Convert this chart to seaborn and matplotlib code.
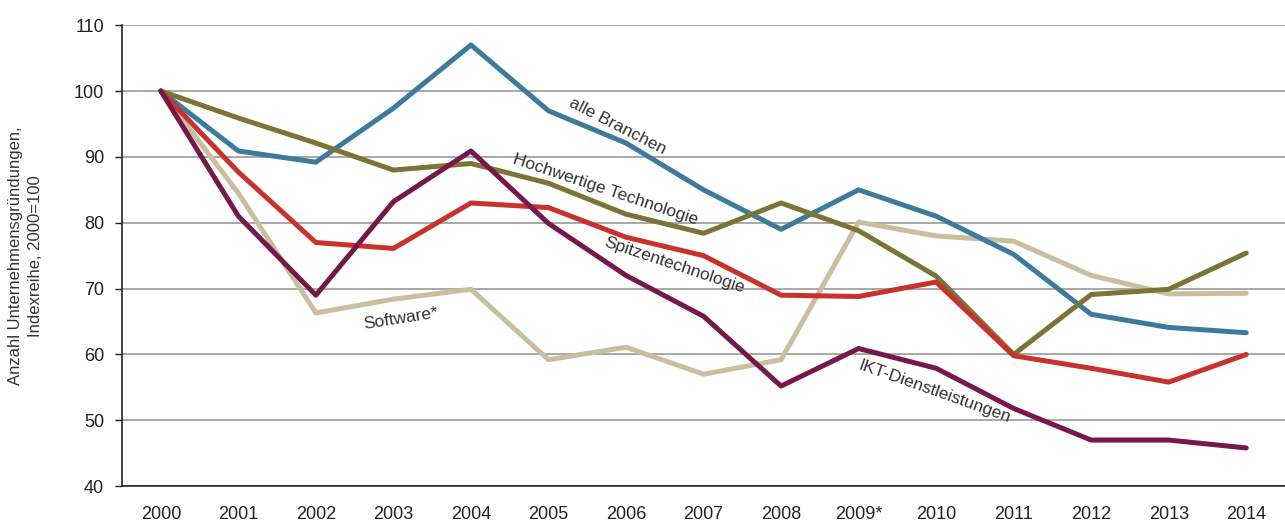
import matplotlib
matplotlib.use("Agg")
import matplotlib.pyplot as plt
import seaborn as sns
import pandas as pd
from matplotlib import font_manager

years = ["2000", "2001", "2002", "2003", "2004", "2005", "2006", "2007",
         "2008", "2009*", "2010", "2011", "2012", "2013", "2014"]

software = [100, 84.5, 66.3, 68.4, 69.9, 59.2, 61.1, 57.0, 59.2, 80.1, 78.0, 77.2, 72.0, 69.2, 69.3]
alle_branchen = [100, 90.9, 89.2, 97.4, 107.0, 97.0, 92.1, 85.0, 79.0, 85.0, 81.0, 75.2, 66.1, 64.1, 63.3]
hochwertige = [100, 95.9, 92.1, 88.0, 89.0, 86.0, 81.3, 78.4, 83.0, 78.8, 71.9, 60.0, 69.1, 69.9, 75.4]
spitzen = [100, 87.7, 77.0, 76.1, 83.0, 82.3, 77.8, 75.0, 69.0, 68.8, 71.0, 59.8, 57.9, 55.8, 60.0]
ikt = [100, 81.0, 69.0, 83.2, 90.9, 79.9, 72.0, 65.8, 55.2, 60.9, 57.9, 51.8, 47.0, 47.0, 45.8]

series = {
    "Software*": software,
    "alle Branchen": alle_branchen,
    "Hochwertige Technologie": hochwertige,
    "Spitzentechnologie": spitzen,
    "IKT-Dienstleistungen": ikt,
}
colors = {
    "Software*": "#c9bf9e",
    "alle Branchen": "#3d7b9d",
    "Hochwertige Technologie": "#7b7436",
    "Spitzentechnologie": "#c8322b",
    "IKT-Dienstleistungen": "#76184b",
}

rows = []
for name, vals in series.items():
    for i, v in enumerate(vals):
        rows.append({"pos": i, "year": years[i], "Serie": name, "Wert": v})
df = pd.DataFrame(rows)

sns.set_theme(style="white")
names = [f.name for f in font_manager.fontManager.ttflist]
fam = "Liberation Sans Narrow" if "Liberation Sans Narrow" in names else "Liberation Sans"
plt.rcParams["font.family"] = [fam, "DejaVu Sans"]

fig = plt.figure(figsize=(12.85, 5.25), dpi=100)
ax = fig.add_axes([0.095, 0.074, 0.905, 0.878])

for y in range(40, 111, 10):
    ax.axhline(y, color="#a8a8a8", lw=1.4, zorder=0)

sns.lineplot(data=df, x="pos", y="Wert", hue="Serie", palette=colors,
             hue_order=list(series.keys()), linewidth=3.6, ax=ax,
             legend=False, solid_capstyle="round")

ax.set_xlim(-0.5, 14.42)
ax.set_ylim(40, 110)
ax.set_yticks(range(40, 111, 10))
ax.set_xticks(range(len(years)))
ax.set_xticklabels(years)
ax.set_xticks([i - 0.5 for i in range(len(years) + 1)], minor=True)
ax.tick_params(axis="x", which="major", length=0, labelsize=13, pad=14, colors="#222222")
ax.tick_params(axis="x", which="minor", length=5, width=1, color="#222222", direction="out")
ax.tick_params(axis="y", which="major", length=5, width=1, labelsize=13, color="#222222",
               direction="out", pad=8, colors="#222222", left=True)
ax.set_xlabel("")
ax.set_ylabel("Anzahl Unternehmensgründungen,\nIndexreihe, 2000=100", fontsize=12,
              color="#333333", labelpad=22, linespacing=1.4)

for s in ["top", "right"]:
    ax.spines[s].set_visible(False)
for s in ["left", "bottom"]:
    ax.spines[s].set_color("#222222")
    ax.spines[s].set_linewidth(1.2)

tkw = dict(fontsize=12.5, color="#333333", ha="center", va="center", rotation_mode="anchor")
ax.text(5.89, 94.6, "alle Branchen", rotation=-27, **tkw)
ax.text(5.73, 85.0, "Hochwertige Technologie", rotation=-18.5, **tkw)
ax.text(6.62, 73.6, "Spitzentechnologie", rotation=-18.5, **tkw)
ax.text(3.1, 65.5, "Software*", rotation=9, **tkw)
ax.text(9.98, 54.3, "IKT-Dienstleistungen", rotation=-19.5, **tkw)

fig.savefig("out.png", dpi=100)
